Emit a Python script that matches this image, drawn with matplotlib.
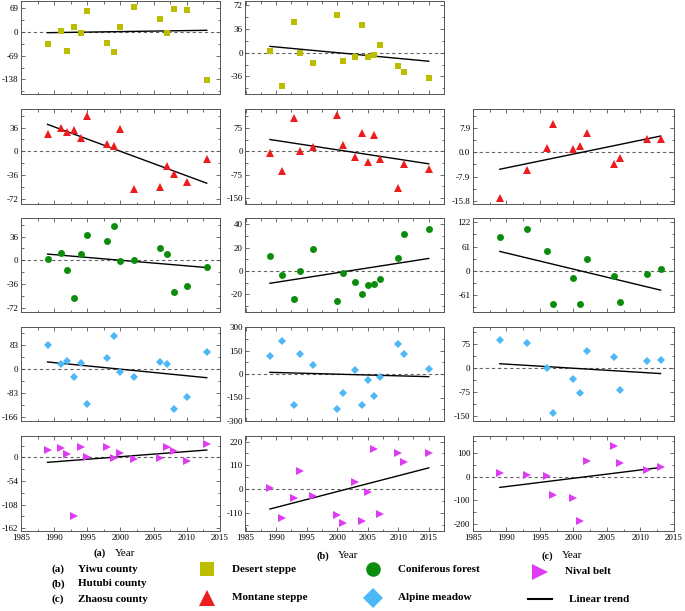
import numpy as np
import matplotlib
matplotlib.use("Agg")
import matplotlib.pyplot as plt
from matplotlib.ticker import AutoMinorLocator, MultipleLocator, FixedLocator

plt.rcParams['font.family'] = ['Liberation Serif', 'DejaVu Serif']
plt.rcParams['axes.unicode_minus'] = False

# years sampled in each county
years_a = [1989, 1991, 1992, 1993, 1994, 1995, 1998, 1999, 2000, 2002, 2006, 2007, 2008, 2010, 2013]
years_b = [1989, 1991, 1993, 1994, 1996, 2000, 2001, 2003, 2004, 2005, 2006, 2007, 2010, 2011, 2015]
years_c = [1989, 1993, 1996, 1997, 2000, 2001, 2002, 2006, 2007, 2011, 2013]

# anomalies per vegetation belt (a = Yiwu, b = Hutubi, c = Zhaosu)
desert_a = [-34, 3, -54, 13.5, -4, 62, -31, -59, 16, 73, 39, -2, 67, 64, -140]
desert_b = [3, -51, 46, 0, -15, 58, -12, -6, 42, -6, -3, 11, -20, -29, -38]
montane_a = [26, 36, 29, 32, 21, 53, 11, 8, 34, -58, -54, -22, -34, -47, -12]
montane_b = [-4, -62, 108, 2, 15, 117, 22, -18, 59, -35, 52, -23, -117, -40, -57]
montane_c = [-14.8, -5.8, 1.3, 9.2, 1.2, 2.2, 6.2, -3.8, -1.7, 4.3, 4.2]
conif_a = [2.5, 11.5, -14.5, -58, 9, 39, 29, 52.5, -1.5, 0.5, 19, 9, -47.5, -39, -10]
conif_b = [13.3, -3.7, -23.8, 0.3, 19.2, -25.7, -2, -9.6, -19.8, -11.9, -10.8, -6.8, 11.3, 31.4, 36.2]
conif_c = [85, 104, 50, -82, -17, -84, 29, -12.5, -78.5, -7, 6]
alpine_a = [83, 20, 28, -28, 23, -120, 39, 116, -8, -28, 27, 20, -138, -94, 61]
alpine_b = [113, 213, -200, 128, 58, -223, -121, 23, -196, -38, -140, -19, 192, 130, 30]
alpine_c = [89, 78, 2, -141, -34, -78, 55, 36, -68, 23, 27]
nival_a = [17, 22, 7, -135, 23.5, 1.5, 23.5, -1, 10, -4, -2, 23, 14, -8, 30]
nival_b = [6, -133, -42, 84, -31, -119, -156, 31, -149, -14, 186, -118, 169, 124, 166]
nival_c = [14, 7, 4, -79, -89, -186, 65, 128, 58, 28, 42]

# linear trend values at first and last year
trend_desert_a = [-2, 5]
trend_desert_b = [9.6, -13]
trend_montane_a = [41, -48.5]
trend_montane_b = [38, -40]
trend_montane_c = [-5.5, 5.3]
trend_conif_a = [9.5, -11]
trend_conif_b = [-10.5, 10.8]
trend_conif_c = [49, -48]
trend_alpine_a = [25.5, -29]
trend_alpine_b = [10.6, -17]
trend_alpine_c = [14.3, -16.4]
trend_nival_a = [-11.4, 16.7]
trend_nival_b = [-93, 98]
trend_nival_c = [-45, 39]

# y tick labels of each panel
yt_desert_a = [69, 0, -69, -138]
yt_desert_b = [72, 36, 0, -36]
yt_montane_a = [36, 0, -36, -72]
yt_montane_b = [75, 0, -75, -150]
yt_montane_c = [7.9, 0.0, -7.9, -15.8]
yt_conif_a = [36, 0, -36, -72]
yt_conif_b = [40, 20, 0, -20]
yt_conif_c = [122, 61, 0, -61]
yt_alpine_a = [83, 0, -83, -166]
yt_alpine_b = [300, 150, 0, -150, -300]
yt_alpine_c = [75, 0, -75, -150]
yt_nival_a = [0, -54, -108, -162]
yt_nival_b = [220, 110, 0, -110]
yt_nival_c = [100, 0, -100, -200]

x_ticks = [1985, 1990, 1995, 2000, 2005, 2010, 2015]

W, H = 685, 611
fig = plt.figure(figsize=(W / 100, H / 100), dpi=100)

cols = {'a': (21, 220, (1985, 2015)), 'b': (245.5, 444, (1985, 2017.5)), 'c': (473, 674, (1985, 2015))}
rows = [(1, 94.3), (109, 204.3), (218.3, 312), (327, 421), (436, 531)]

colors = {'desert': '#bcbc00', 'montane': '#ee1d1d', 'conif': '#0c8c0c',
          'alpine': '#4cb8f5', 'nival': '#dd3cf0'}
markers = {'desert': ('s', 4.6), 'montane': ('^', 5.2), 'conif': ('o', 5.0),
           'alpine': ('D', 4.4), 'nival': ('>', 5.4)}

panels = [
    ('desert', 'a', 0, years_a, desert_a, trend_desert_a, yt_desert_a, (-181.6, 90.4), '%d'),
    ('desert', 'b', 0, years_b, desert_b, trend_desert_b, yt_desert_b, (-63.3, 78.6), '%d'),
    ('montane', 'a', 1, years_a, montane_a, trend_montane_a, yt_montane_a, (-80.6, 64.4), '%d'),
    ('montane', 'b', 1, years_b, montane_b, trend_montane_b, yt_montane_b, (-170, 136), '%d'),
    ('montane', 'c', 1, years_c, montane_c, trend_montane_c, yt_montane_c, (-16.9, 14.1), '%.1f'),
    ('conif', 'a', 2, years_a, conif_a, trend_conif_a, yt_conif_a, (-78.6, 63.9), '%d'),
    ('conif', 'b', 2, years_b, conif_b, trend_conif_b, yt_conif_b, (-35.1, 45.2), '%d'),
    ('conif', 'c', 2, years_c, conif_c, trend_conif_c, yt_conif_c, (-102.8, 132), '%d'),
    ('alpine', 'a', 3, years_a, alpine_a, trend_alpine_a, yt_alpine_a, (-178.7, 146.4), '%d'),
    ('alpine', 'b', 3, years_b, alpine_b, trend_alpine_b, yt_alpine_b, (-300, 300), '%d'),
    ('alpine', 'c', 3, years_c, alpine_c, trend_alpine_c, yt_alpine_c, (-164.5, 129), '%d'),
    ('nival', 'a', 4, years_a, nival_a, trend_nival_a, yt_nival_a, (-168.1, 48.7), '%d'),
    ('nival', 'b', 4, years_b, nival_b, trend_nival_b, yt_nival_b, (-195, 246), '%d'),
    ('nival', 'c', 4, years_c, nival_c, trend_nival_c, yt_nival_c, (-229, 171.8), '%d'),
]

frame_col = '#555555'

for belt, county, r, yrs, vals, trend, yt, ylim, fmt in panels:
    left, right, xlim = cols[county]
    top, bottom = rows[r]
    ax = fig.add_axes([left / W, 1 - bottom / H, (right - left) / W, (bottom - top) / H])
    m, ms = markers[belt]
    ax.plot(yrs, vals, linestyle='none', marker=m, ms=ms, color=colors[belt],
            markeredgewidth=0, zorder=3)
    ax.plot([yrs[0], yrs[-1]], trend, color='black', lw=1.0, zorder=2)
    ax.axhline(0, color='#666666', lw=0.8, ls=(0, (3, 2.5)), zorder=1)
    ax.set_xlim(*xlim)
    ax.set_ylim(*ylim)
    ax.xaxis.set_major_locator(FixedLocator(x_ticks))
    ax.xaxis.set_minor_locator(MultipleLocator(2.5))
    ax.yaxis.set_major_locator(FixedLocator(yt))
    ax.yaxis.set_minor_locator(AutoMinorLocator(2))
    ax.set_yticklabels([fmt % v for v in yt])
    ax.tick_params(which='both', direction='in', top=True, right=True,
                   color=frame_col, width=0.6, labelsize=6.5, pad=2)
    ax.tick_params(which='major', length=3)
    ax.tick_params(which='minor', length=1.8)
    if r == 4:
        ax.set_xticklabels([str(t) for t in x_ticks])
    else:
        ax.tick_params(axis='x', labelbottom=False)
    for s in ax.spines.values():
        s.set_color(frame_col)
        s.set_linewidth(0.7)

# axis titles under the bottom row
for lab, xl, yl in [('(a)', 100, 553), ('(b)', 323, 556), ('(c)', 547, 556)]:
    fig.text(xl / W, 1 - yl / H, lab, fontsize=7.5, fontweight='bold', ha='center', va='center')
    fig.text((xl + 25) / W, 1 - yl / H, 'Year', fontsize=8, ha='center', va='center')

# legend block
lax = fig.add_axes([0, 0, 1, 1], zorder=-1)
lax.set_xlim(0, W)
lax.set_ylim(H, 0)
lax.axis('off')
for lab, name, yl in [('(a)', 'Yiwu county', 569), ('(b)', 'Hutubi county', 584), ('(c)', 'Zhaosu county', 599)]:
    lax.text(52, yl, lab, fontsize=8, fontweight='bold', va='center')
    lax.text(78, yl, name, fontsize=8, fontweight='bold', va='center')

legend_items = [
    ('desert', 'Desert steppe', 207, 569, 9.5),
    ('montane', 'Montane steppe', 207, 598, 11),
    ('conif', 'Coniferous forest', 373, 569, 10.5),
    ('alpine', 'Alpine meadow', 373, 598, 10),
    ('nival', 'Nival belt', 540, 572, 12),
]
for belt, name, xm, ym, size in legend_items:
    m, _ = markers[belt]
    lax.plot([xm], [ym], marker=m, ms=size, color=colors[belt], markeredgewidth=0)
    lax.text(xm + 25, ym, name, fontsize=8, fontweight='bold', va='center')
lax.plot([528, 552], [599, 599], color='black', lw=1.5)
lax.text(569, 599, 'Linear trend', fontsize=8, fontweight='bold', va='center')

fig.savefig('out.png', dpi=100)
